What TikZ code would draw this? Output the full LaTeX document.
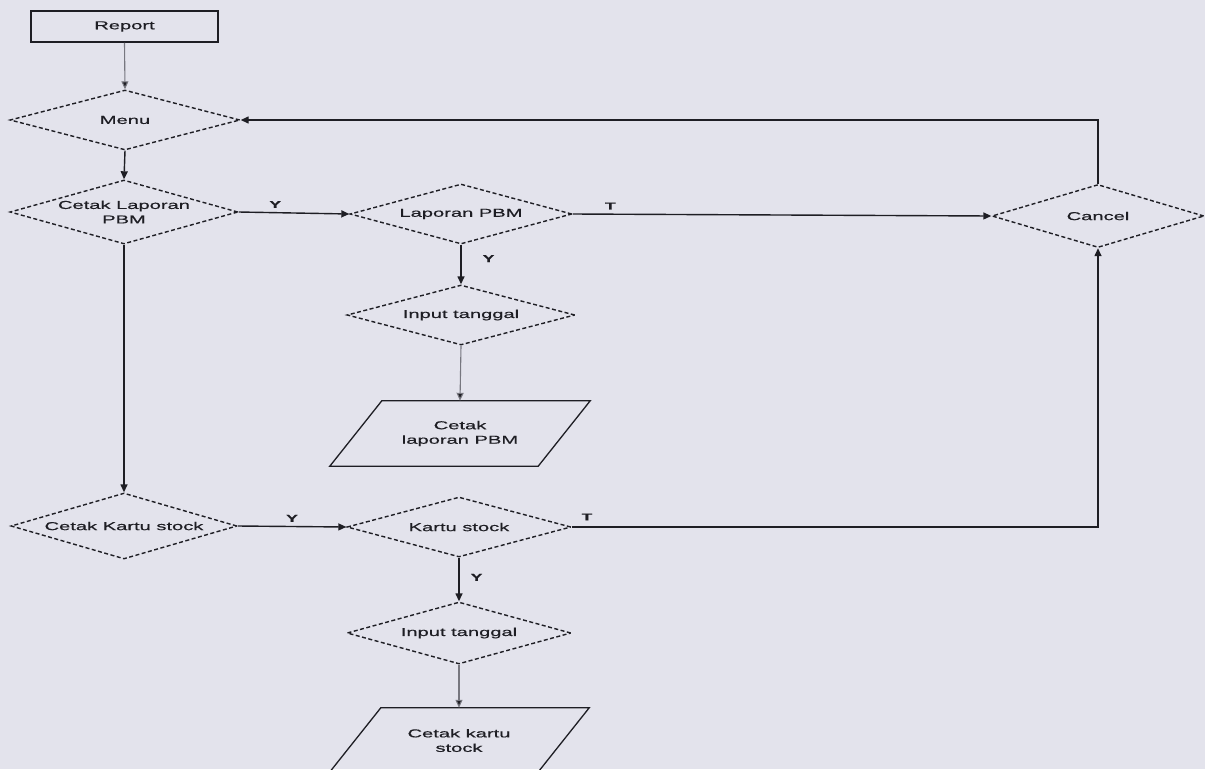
\documentclass[tikz,border=0pt]{standalone}
\usepackage{fontspec}
\setmainfont{Liberation Sans}[FakeStretch=1.75,FakeBold=0.6]
\usetikzlibrary{shapes.geometric,arrows.meta,calc}
\definecolor{paper}{HTML}{E3E3EC}
\definecolor{ink}{HTML}{1E1E24}
\definecolor{faint}{HTML}{77777F}
\newcommand\dfont{\fontsize{11.5pt}{14.5pt}\selectfont}
\newcommand\lfont{\fontsize{10pt}{12pt}\selectfont\bfseries}
\tikzset{
  dec/.style={diamond,draw=ink,line width=1.4pt,dash pattern=on 4pt off 2.5pt,
    aspect=3.6,inner sep=0pt,align=center,font=\dfont,text=ink},
  termbox/.style={rectangle,draw=ink,line width=1.5pt,minimum width=187pt,
    minimum height=31pt,font=\dfont,text=ink},
  outbox/.style={rectangle,draw=none,minimum width=208pt,minimum height=65pt,
    inner sep=0pt,align=center,font=\dfont,text=ink},
  para/.style={draw=ink,line width=1.3pt},
  arr/.style={draw=ink,line width=1.4pt,-{Triangle[length=8pt,width=7pt]}},
  farr/.style={draw=faint,line width=1.1pt,-{Triangle[length=8pt,width=7pt,fill=ink]}},
  lab/.style={font=\lfont,text=ink,inner sep=1pt}
}
\begin{document}
\begin{tikzpicture}[x=1pt,y=-1pt]
\fill[paper] (0,0) rectangle (1205,769);
\useasboundingbox (0,0) rectangle (1205,769);
\clip (0,0) rectangle (1205,769);

\node[termbox] (report) at (124.5,26.5) {Report};
\node[dec,minimum width=230pt,minimum height=60pt] (menu) at (125,120) {Menu};
\node[dec,minimum width=228pt,minimum height=64pt] (clp) at (124,212) {Cetak Laporan\\PBM};
\node[dec,minimum width=222pt,minimum height=60pt] (lp) at (461,214) {Laporan PBM};
\node[dec,minimum width=228pt,minimum height=60pt] (it1) at (461,315) {Input tanggal};
\node[outbox] (o1) at (460,433.5) {Cetak\\laporan PBM};
\node[dec,minimum width=226pt,minimum height=66pt] (ck) at (124,526) {Cetak Kartu stock};
\node[dec,minimum width=224pt,minimum height=60pt] (ks) at (459,527) {Kartu stock};
\node[dec,minimum width=224pt,minimum height=62pt] (it2) at (459,633) {Input tanggal};
\node[outbox] (o2) at (459,740.5) {Cetak kartu\\stock};
\node[dec,minimum width=212pt,minimum height=63pt] (cancel) at (1098,216) {Cancel};

\draw[para] ([xshift=26pt]o1.north west) -- ([xshift=26pt]o1.north east)
  -- ([xshift=-26pt]o1.south east) -- ([xshift=-26pt]o1.south west) -- cycle;
\draw[para] ([xshift=26pt]o2.north west) -- ([xshift=26pt]o2.north east)
  -- ([xshift=-26pt]o2.south east) -- ([xshift=-26pt]o2.south west) -- cycle;

\draw[farr] (report.south) -- (menu.north);
\draw[arr] (menu.south) -- (clp.north);
\draw[arr] (clp.east) -- node[lab,pos=0.33,above=3pt] {Y} (lp.west);
\draw[arr] (lp.east) -- node[lab,pos=0.09,above=3pt] {T} (cancel.west);
\draw[arr] (lp.south) -- node[lab,right=20pt,pos=0.35] {Y} (it1.north);
\draw[farr] (it1.south) -- (o1.north);
\draw[arr] (clp.south) -- (ck.north);
\draw[arr] (ck.east) -- node[lab,pos=0.5,above=3pt] {Y} (ks.west);
\draw[arr] (ks.east) -| (cancel.south);
\node[lab] (tl2) at (587,517) {T};
\draw[arr] (ks.south) -- node[lab,right=10pt,pos=0.45] {Y} (it2.north);
\draw[farr] (it2.south) -- (o2.north);
\draw[arr] (cancel.north) |- (menu.east);
\end{tikzpicture}
\end{document}
